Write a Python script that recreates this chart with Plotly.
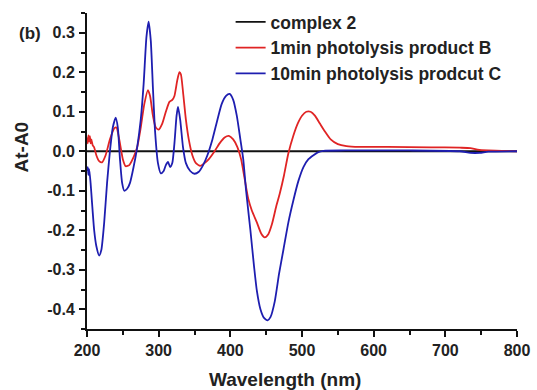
import plotly.graph_objects as go

# Wavelength (nm) and At-A0 values
complex2_x = [200, 800]
complex2_y = [0.0, 0.0]

b_x = [200, 201, 202, 203, 204, 205, 206, 208, 210, 213, 217, 221, 226, 232, 238, 241, 245, 250, 254,
       259, 265, 270, 275, 280, 285, 288, 292, 296, 300, 305, 310, 315, 319, 322, 326, 329, 331, 334,
       338, 342, 347, 352, 358, 364, 370, 378, 385, 392, 398, 404, 410, 415, 420, 425, 430, 437, 443,
       448, 453, 458, 464, 469, 475, 481, 488, 494, 500, 506, 512, 518, 525, 532, 540, 550, 562, 580,
       620, 680, 720, 735, 745, 760, 800]
b_y = [0.035, 0.02, 0.04, 0.025, 0.038, 0.02, 0.03, 0.015, 0.01, -0.01, -0.025, -0.028, -0.01, 0.03,
       0.058, 0.06, 0.03, -0.02, -0.038, -0.035, -0.015, 0.01, 0.06, 0.12, 0.155, 0.14, 0.09, 0.06,
       0.055, 0.07, 0.1, 0.125, 0.13, 0.14, 0.18, 0.2, 0.195, 0.15, 0.08, 0.03, -0.01, -0.03, -0.037,
       -0.03, -0.02, 0.0, 0.02, 0.035, 0.039, 0.03, 0.01, -0.02, -0.07, -0.12, -0.15, -0.18, -0.208,
       -0.218, -0.21, -0.185, -0.14, -0.107, -0.06, -0.005, 0.04, 0.07, 0.09, 0.1, 0.1, 0.09, 0.07,
       0.05, 0.03, 0.018, 0.013, 0.011, 0.011, 0.01, 0.009, 0.008, 0.004, 0.002, 0.0]

c_x = [200, 201, 202, 203, 205, 207, 210, 213, 217, 220, 224, 228, 232, 236, 240, 243, 246, 249, 252,
       256, 260, 265, 270, 275, 279, 283, 286, 289, 292, 295, 299, 303, 307, 310, 313, 316, 319, 322,
       325, 327, 330, 334, 338, 344, 350, 356, 362, 368, 375, 382, 388, 394, 399, 404, 409, 414, 418,
       422, 428, 433, 437, 442, 447, 452, 456, 462, 468, 474, 481, 488, 495, 502, 509, 516, 522, 530,
       560, 650, 720, 735, 748, 760, 800]
c_y = [-0.05, -0.04, -0.06, -0.045, -0.08, -0.13, -0.2, -0.24, -0.264, -0.25, -0.18, -0.08, 0.0, 0.06,
       0.085, 0.06, -0.02, -0.08, -0.1, -0.095, -0.08, -0.04, 0.01, 0.08, 0.17, 0.29, 0.328, 0.28,
       0.16, 0.05, -0.03, -0.056, -0.05, -0.035, -0.027, -0.04, -0.03, 0.02, 0.09, 0.112, 0.08, 0.01,
       -0.03, -0.05, -0.057, -0.052, -0.035, -0.01, 0.03, 0.08, 0.12, 0.14, 0.145, 0.13, 0.09, 0.03,
       -0.02, -0.1, -0.2, -0.29, -0.353, -0.4, -0.422, -0.428, -0.42, -0.38, -0.31, -0.25, -0.18,
       -0.124, -0.075, -0.04, -0.02, -0.01, -0.003, 0.001, 0.002, 0.002, 0.0, -0.004, -0.004, -0.001, 0.0]

x_ticks = [200, 300, 400, 500, 600, 700, 800]
y_ticks = [0.3, 0.2, 0.1, 0.0, -0.1, -0.2, -0.3, -0.4]
y_ticktext = ["0.3", "0.2", "0.1", "0.0", "-0.1", "-0.2", "-0.3", "-0.4"]

font_family = "Liberation Sans, Arial, sans-serif"
txt = "#222222"

fig = go.Figure()
fig.add_trace(go.Scatter(x=complex2_x, y=complex2_y, mode="lines", name="complex 2",
                         line=dict(color="#111111", width=1.8)))
fig.add_trace(go.Scatter(x=b_x, y=b_y, mode="lines", name="1min photolysis product B",
                         line=dict(color="#e02424", width=1.8, shape="spline", smoothing=0.6)))
fig.add_trace(go.Scatter(x=c_x, y=c_y, mode="lines", name="10min photolysis prodcut C",
                         line=dict(color="#1e1eb0", width=1.8, shape="spline", smoothing=0.6)))

axis_common = dict(showline=True, linecolor="#111111", linewidth=2, ticks="outside",
                   ticklen=6, tickwidth=2, tickcolor="#111111", showgrid=False, zeroline=False,
                   tickfont=dict(family=font_family, size=16, color=txt, weight="bold"),
                   mirror=False, automargin=False)

fig.update_layout(
    width=537, height=390,
    margin=dict(l=87, r=20, t=13, b=61, autoexpand=False),
    paper_bgcolor="white", plot_bgcolor="white",
    font=dict(family=font_family, color=txt),
    showlegend=True,
    legend=dict(x=0.334, y=1.0285, xanchor="left", yanchor="top", bgcolor="rgba(0,0,0,0)",
                font=dict(family=font_family, size=17.5, color=txt, weight="bold"),
                tracegroupgap=0, itemwidth=30),
    xaxis=dict(range=[200, 800], tickvals=x_ticks, ticklabelstandoff=0,
               minor=dict(dtick=50, ticks="outside", ticklen=4, tickwidth=2, tickcolor="#111111"),
               **axis_common),
    yaxis=dict(range=[-0.45, 0.35], tickvals=y_ticks, ticktext=y_ticktext, ticklabelstandoff=1,
               minor=dict(dtick=0.05, ticks="outside", ticklen=4, tickwidth=2, tickcolor="#111111"),
               **axis_common),
    annotations=[
        dict(text="(b)", xref="paper", yref="paper", x=-0.1337, y=0.9367,
             xanchor="center", yanchor="middle", showarrow=False,
             font=dict(family=font_family, size=17, color=txt, weight="bold")),
        dict(text="At-A0", xref="paper", yref="paper", x=-0.1523, y=0.576, textangle=-90,
             xanchor="center", yanchor="middle", showarrow=False,
             font=dict(family=font_family, size=19, color=txt, weight="bold")),
        dict(text="Wavelength (nm)", xref="paper", yref="paper", x=0.4616, y=-0.161,
             xanchor="center", yanchor="middle", showarrow=False,
             font=dict(family=font_family, size=19, color=txt, weight="bold")),
    ],
)

fig.write_html("out.html", config={"displayModeBar": False},
               post_script="document.body.style.margin='0';document.body.style.overflow='hidden';")
